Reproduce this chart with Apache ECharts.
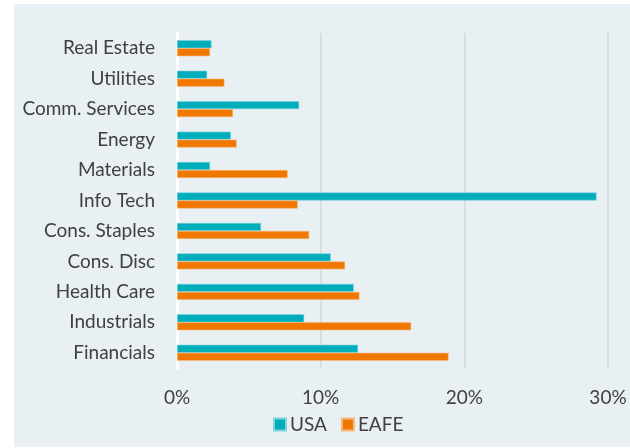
<!DOCTYPE html>
<html><head><meta charset="utf-8">
<script src="https://cdn.jsdelivr.net/npm/echarts@6/dist/echarts.min.js"></script>
<style>html,body{margin:0;padding:0;background:#fff}#c{width:630px;height:448px}</style>
</head><body><div id="c"></div>
<script>
const categories = ['Financials','Industrials','Health Care','Cons. Disc','Cons. Staples','Info Tech','Materials','Energy','Comm. Services','Utilities','Real Estate'];
const usa  = [12.6, 8.85, 12.3, 10.7, 5.85, 29.2, 2.3, 3.75, 8.5, 2.1, 2.4];
const eafe = [18.9, 16.3, 12.7, 11.7, 9.2, 8.4, 7.7, 4.15, 3.9, 3.3, 2.3];
const xTicks = [0, 10, 20, 30];

const chart = echarts.init(document.getElementById('c'), null, {renderer:'canvas'});
chart.setOption({
  animation:false,
  backgroundColor:'#ffffff',
  graphic:[{type:'rect', z:-10, silent:true, shape:{x:14,y:4,width:616,height:443}, style:{fill:'#E8F0F4'}}],
  grid:{left:177, right:22, top:33, bottom:80, containLabel:false},
  legend:{
    data:['USA','EAFE'], bottom:9, left:268, itemWidth:12, itemHeight:12, itemGap:14,
    icon:'rect',
    textStyle:{fontFamily:'Lato', fontSize:19, color:'#404040', padding:[0,0,0,-1]}
  },
  xAxis:{
    type:'value', min:0, max:30, interval:10,
    axisLine:{show:false}, axisTick:{show:false},
    splitLine:{show:true, lineStyle:{color:'#D6D9DB', width:1.5}},
    axisLabel:{formatter:v=>v+'%', margin:20, fontFamily:'Lato', fontSize:19, color:'#404040'}
  },
  yAxis:{
    type:'category', data:categories,
    axisLine:{show:true, lineStyle:{color:'#ffffff', width:3}}, axisTick:{show:false},
    axisLabel:{margin:22, fontFamily:'Lato', fontSize:19, color:'#404040'}
  },
  series:[
    {name:'USA', type:'bar', data:usa, barWidth:8, barGap:'0%', itemStyle:{color:'#00ADBB', borderColor:'#7FD3DA', borderWidth:0.6}},
    {name:'EAFE', type:'bar', data:eafe, barWidth:8, barGap:'0%', itemStyle:{color:'#F07800', borderColor:'#F5B980', borderWidth:0.6}}
  ]
});
</script></body></html>
